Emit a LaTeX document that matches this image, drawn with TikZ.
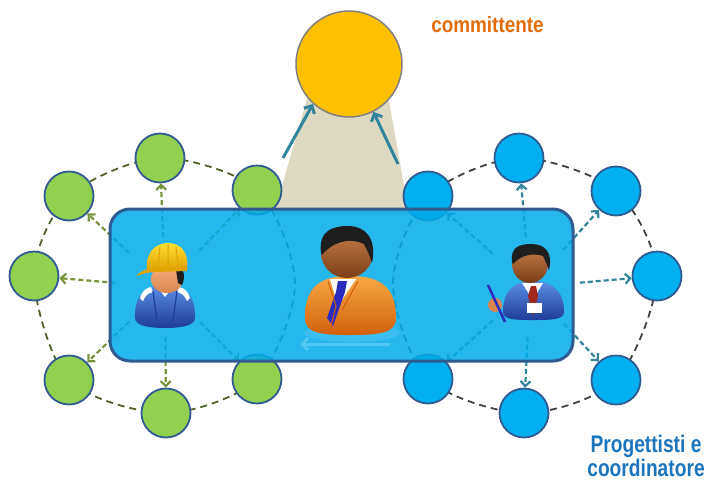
\documentclass[tikz,border=0pt]{standalone}
\usepackage{fontspec}
\setmainfont{Liberation Sans}
\usetikzlibrary{arrows.meta,backgrounds}

\definecolor{foglia}{HTML}{92D050}
\definecolor{cielo}{HTML}{00B0F0}
\definecolor{oro}{HTML}{FFC000}
\definecolor{sabbia}{HTML}{DDD9C3}
\definecolor{bordoblu}{HTML}{2F5B92}
\definecolor{riempi}{HTML}{00AAE9}
\definecolor{oliva}{HTML}{4F6228}
\definecolor{olivachiaro}{HTML}{77933C}
\definecolor{grafite}{HTML}{404040}
\definecolor{petrolio}{HTML}{31849B}
\definecolor{arancio}{HTML}{E36C0A}
\definecolor{blutesto}{HTML}{1C75BC}
\definecolor{tutaA}{HTML}{5B8FE6}
\definecolor{tutaB}{HTML}{1E3C9A}
\definecolor{cascoA}{HTML}{FFDD33}
\definecolor{cascoB}{HTML}{E0A300}
\definecolor{pelleA}{HTML}{F6B27E}
\definecolor{pelleB}{HTML}{D98550}
\definecolor{scuraA}{HTML}{C9804A}
\definecolor{scuraB}{HTML}{7B3E18}
\definecolor{capelli}{HTML}{1E1E1E}
\definecolor{abitoA}{HTML}{F8A844}
\definecolor{abitoB}{HTML}{D2600A}
\definecolor{cravatta}{HTML}{2B2BBF}
\definecolor{rosso}{HTML}{A3261C}

\tikzset{
  member/.style={circle,draw=bordoblu,line width=1.8pt,minimum size=49pt,inner sep=0pt},
  greenmember/.style={member,fill=foglia},
  bluemember/.style={member,fill=cielo},
  client/.style={circle,draw=gray,line width=1.5pt,fill=oro,minimum size=106pt,inner sep=0pt},
  team/.style={draw=bordoblu,line width=3pt,fill=riempi,fill opacity=.85,rounded corners=20pt,minimum width=463pt,minimum height=152pt,inner sep=0pt},
  ring/.style={line width=1.8pt,dash pattern=on 7pt off 5pt},
  link/.style={-{Straight Barb[length=5pt,width=10pt]},line width=2.2pt,dash pattern=on 5pt off 3pt,shorten <=50pt},
  uplink/.style={-{Straight Barb[length=6pt,width=12pt]},line width=3pt,draw=petrolio},
  titletext/.style={font=\bfseries\fontsize{22}{22}\selectfont,anchor=base}
}

\begin{document}
\begin{tikzpicture}[x=1pt,y=-1pt]
\useasboundingbox (0,0) rectangle (710,480);

% Committente
\node[client] (comm) at (349,64) {};
\coordinate (la) at (283,158);
\coordinate (ra) at (398,164);
\draw[uplink] (la) -- (comm.-132);
\draw[uplink] (ra) -- (comm.-63);

% Cerchi
\foreach \n/\x/\y in {1/160/158,2/257/190,3/257/379,4/166/413,5/69/380,6/34/276,7/69/196}
  \node[greenmember] (g\n) at (\x,\y) {};
\foreach \n/\x/\y in {1/519/158,2/616/191,3/657/276,4/616/380,5/524/413,6/428/379,7/428/196}
  \node[bluemember] (b\n) at (\x,\y) {};
\coordinate (gin) at (295,284);
\coordinate (bin) at (393,284);

\begin{scope}[on background layer]
\fill[sabbia] (308,95) -- (388,95) -- (409,214) -- (274,214) -- cycle;
\draw[ring,oliva] plot[smooth cycle] coordinates {(g1.center) (g2.center) (gin) (g3.center) (g4.center) (g5.center) (g6.center) (g7.center)};
\draw[ring,grafite] plot[smooth cycle] coordinates {(b1.center) (b2.center) (b3.center) (b4.center) (b5.center) (b6.center) (bin) (b7.center)};
\end{scope}

% Frecce
\coordinate (worker) at (165,287);
\coordinate (designer) at (530,287);
\foreach \n in {1,...,7}{
  \draw[link,olivachiaro] (worker) -- (g\n);
  \draw[link,petrolio] (designer) -- (b\n);
}

\node[team] (team) at (341.5,285) {};

% Capocantiere
\shade[top color=tutaA,bottom color=tutaB] (135,318) .. controls (134,293) and (148,285) .. (165,285) .. controls (182,285) and (196,293) .. (195,318) .. controls (195,326) and (180,328) .. (165,328) .. controls (150,328) and (135,326) .. (135,318) -- cycle;
\fill[white] (157,286) -- (173,286) -- (165,297) -- cycle;
\fill[white] (140,298) .. controls (142,291) and (146,288) .. (151,287) -- (153,292) .. controls (148,293) and (145,296) .. (143,301) -- cycle;
\fill[white] (190,298) .. controls (188,291) and (184,288) .. (179,287) -- (177,292) .. controls (182,293) and (185,296) .. (187,301) -- cycle;
\draw[tutaB,line width=1.2pt] (153,291) -- (157,321) (177,291) -- (173,321);
\shade[top color=pelleA,bottom color=pelleB] (167,279) ellipse (16pt and 14pt);
\fill[capelli] (176,265) .. controls (184,268) and (186,276) .. (182,285) -- (178,283) -- (176,270) -- cycle;
\shade[top color=cascoA,bottom color=cascoB] (147,270) .. controls (145,252) and (156,243) .. (168,243) .. controls (181,243) and (189,253) .. (187,268) -- cycle;
\fill[cascoB] (136,276) .. controls (142,270) and (148,268) .. (156,268) -- (187,266) -- (187,271) -- (156,272) .. controls (148,272) and (142,274) .. (136,276) -- cycle;
\draw[cascoB,line width=1pt] (160,247) -- (158,267) (168,244) -- (168,267) (176,247) -- (178,266);

% Responsabile
\fill[white,opacity=.1] (352,333) ellipse (48pt and 9pt);
\shade[top color=abitoA,bottom color=abitoB] (305,318) .. controls (305,285) and (322,276) .. (350,276) .. controls (378,276) and (396,285) .. (396,318) .. controls (396,333) and (380,335) .. (350,335) .. controls (320,335) and (305,333) .. (305,318) -- cycle;
\fill[white] (330,279) -- (356,279) -- (338,306) -- cycle;
\fill[cravatta] (338,281) -- (347,281) -- (345,292) -- (333,326) -- (327,318) -- (336,292) -- cycle;
\draw[abitoB,line width=1pt] (328,281) -- (336,306) -- (330,330) (358,281) -- (342,310);
\shade[top color=scuraA,bottom color=scuraB] (347,253) ellipse (26pt and 25pt);
\fill[capelli] (321,253) .. controls (318,229) and (335,226) .. (348,226) .. controls (366,226) and (377,239) .. (372,263) .. controls (370,256) and (367,250) .. (364,244) .. controls (352,238) and (334,240) .. (322,255) -- cycle;

% Progettista
\shade[top color=tutaA,bottom color=tutaB] (503,312) .. controls (503,290) and (515,281) .. (533,281) .. controls (551,281) and (564,290) .. (564,312) .. controls (564,320) and (550,320) .. (533,320) .. controls (516,320) and (503,320) .. (503,312) -- cycle;
\fill[white] (522,283) -- (543,283) -- (533,300) -- cycle;
\fill[rosso] (531,286) -- (536,286) -- (538,296) -- (533,316) -- (528,296) -- cycle;
\fill[white] (527,303) rectangle (542,313);
\shade[top color=scuraA,bottom color=scuraB] (530,264) ellipse (18pt and 19pt);
\fill[capelli] (512,262) .. controls (510,247) and (520,244) .. (531,244) .. controls (545,244) and (553,252) .. (549,270) .. controls (547,265) and (545,260) .. (543,256) .. controls (534,253) and (522,254) .. (513,264) -- cycle;
\fill[pelleB] (495,305) circle (7pt);
\draw[cravatta,line width=2.5pt] (488,285) -- (505,322);

% Freccia chiara
\coordinate (ls) at (390,344);
\coordinate (le) at (300,344);
\draw[-{Straight Barb[length=6pt,width=12pt]},line width=3pt,draw=cielo!60!white,opacity=.7] (ls) -- (le);

% Testi
\node[titletext,text=arancio] (committente) at (487.5,32) {\scalebox{.86}[1]{committente}};
\node[titletext,text=blutesto,font=\bfseries\fontsize{24}{24}\selectfont] (prog) at (646,452) {\scalebox{.8}[1]{Progettisti e}};
\node[titletext,text=blutesto,font=\bfseries\fontsize{24}{24}\selectfont] (coord) at (646,476) {\scalebox{.8}[1]{coordinatore}};
\end{tikzpicture}
\end{document}
